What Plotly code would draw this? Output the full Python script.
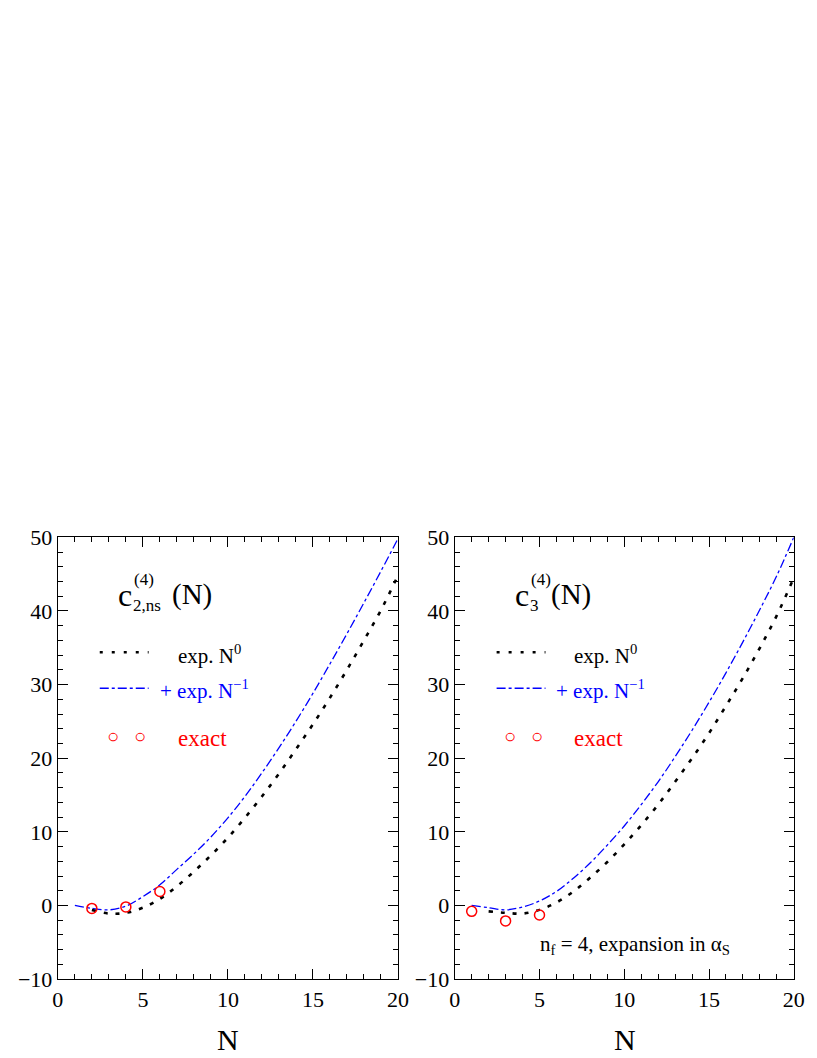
import plotly.graph_objects as go

N_line = list(range(1, 21))
p1_blue = [0, -0.4, -0.6, -0.1, 1.2, 2.8, 4.9, 7.0, 9.3, 11.9, 14.8, 18.0, 21.4, 25.0, 28.8, 32.8, 36.9, 41.1, 45.4, 49.8]
N_dot = list(range(2, 21))
p1_black = [-0.6, -1.1, -1.0, -0.3, 0.9, 2.6, 4.6, 6.8, 9.2, 11.9, 14.8, 17.9, 21.2, 24.6, 28.2, 32.0, 36.0, 40.1, 44.8]
p1_exact_N = [2, 4, 6]
p1_exact = [-0.4, -0.2, 1.9]

p2_blue = [0, -0.3, -0.6, -0.2, 0.6, 1.9, 3.7, 5.8, 8.2, 10.8, 13.7, 16.8, 20.2, 23.8, 27.6, 31.6, 35.8, 40.2, 44.8, 50.0]
p2_black = [-0.8, -1.0, -1.1, -0.6, 0.4, 1.9, 3.8, 5.9, 8.3, 10.9, 13.7, 16.8, 20.0, 23.4, 27.1, 30.9, 35.0, 39.4, 44.5]
p2_exact_N = [1, 3, 5]
p2_exact = [-0.8, -2.1, -1.3]

W, H = 817, 1058
FONT = "Liberation Serif"

def fx(p):
    return ((p - 12) / 0.982) / W

def fy(p):
    return 1 - ((p - 20.3) / 0.977) / H

fig = go.Figure()
for i, (blue, black, en, ev) in enumerate([(p1_blue, p1_black, p1_exact_N, p1_exact),
                                          (p2_blue, p2_black, p2_exact_N, p2_exact)]):
    xa = "x" if i == 0 else "x2"
    ya = "y" if i == 0 else "y2"
    fig.add_trace(go.Scatter(x=N_line, y=blue, mode="lines", line=dict(color="blue", dash="dashdot", width=1.3, shape="spline"), xaxis=xa, yaxis=ya))
    fig.add_trace(go.Scatter(x=N_dot, y=black, mode="lines", line=dict(color="black", dash="4px,8px", width=2.6, shape="spline"), xaxis=xa, yaxis=ya))
    fig.add_trace(go.Scatter(x=en, y=ev, mode="markers", marker=dict(symbol="circle-open", color="red", size=10, line=dict(width=1.5)), xaxis=xa, yaxis=ya))

ax = dict(showgrid=False, zeroline=False, showline=True, linecolor="black", linewidth=1.2, mirror="allticks",
          ticks="inside", ticklen=10, tickcolor="black", tickfont=dict(family=FONT, size=22, color="black"))
xax = dict(ax, range=[0, 20], dtick=5, minor=dict(dtick=1, ticks="inside", ticklen=5, tickcolor="black"))
yax = dict(ax, range=[-10, 50], dtick=10, minor=dict(dtick=2, ticks="inside", ticklen=5, tickcolor="black"))
fig.update_layout(
    width=W, height=H, margin=dict(l=0, r=0, t=0, b=0), showlegend=False,
    plot_bgcolor="white", paper_bgcolor="white",
    xaxis=dict(xax, domain=[fx(56), fx(397)], anchor="y"),
    yaxis=dict(yax, domain=[fy(980), fy(538)], anchor="x"),
    xaxis2=dict(xax, domain=[fx(454), fx(794)], anchor="y2"),
    yaxis2=dict(yax, domain=[fy(980), fy(538)], anchor="x2"),
)

def ann(px, py, text, size, color="black", xanchor="left"):
    fig.add_annotation(x=fx(px), y=fy(py), xref="paper", yref="paper", text=text, showarrow=False,
                       xanchor=xanchor, yanchor="middle", font=dict(family=FONT, size=size, color=color))

for off, sub in [(0, "2,ns"), (398, "3")]:
    ann(114 + off, 596, "c", 32)
    ann(130 + off, 580, "(4)", 17)
    ann(129 + off, 606, sub, 17)
    ann((168 if off == 0 else 151) + off, 595, "(N)", 29)
    fig.add_shape(type="line", xref="paper", yref="paper", x0=fx(98 + off), x1=fx(147 + off),
                  y0=fy(653), y1=fy(653), line=dict(color="black", dash="3px,9px", width=2.6))
    ann(174 + off, 655, "exp. N<sup>0</sup>", 21)
    fig.add_shape(type="line", xref="paper", yref="paper", x0=fx(98 + off), x1=fx(147 + off),
                  y0=fy(689), y1=fy(689), line=dict(color="blue", dash="dashdot", width=1.3))
    ann(156 + off, 690, "+ exp. N<sup>−1</sup>", 21, "blue")
    ann(111 + off, 737, "○", 20, "red", "center")
    ann(138 + off, 737, "○", 20, "red", "center")
    ann(174 + off, 739, "exact", 23, "red")
    ann(227 + off, 1040, "N", 30, "black", "center")

ann(538, 946, "n<sub>f</sub> = 4, expansion in α<sub>S</sub>", 21)
fig.write_html("out.html")
